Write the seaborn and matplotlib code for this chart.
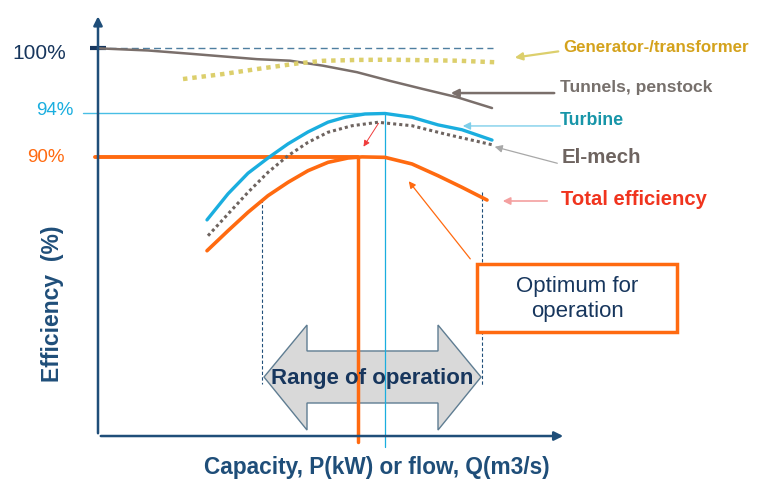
import numpy as np
import matplotlib
matplotlib.use('Agg')
import matplotlib.pyplot as plt
from matplotlib.patches import Polygon, Rectangle
import seaborn as sns

# efficiency curves, x = capacity (arbitrary units), y = efficiency (%)
tunnel_x = [0, 5.0, 9.2, 15.9, 19.2, 22.5, 25.9, 29.2, 32.5, 35.9, 39.4]
tunnel_y = [100, 99.8, 99.5, 99.0, 98.86, 98.4, 97.8, 97.0, 96.25, 95.5, 94.5]

gen_x = [8.5, 12.5, 15.9, 19.9, 22.5, 26.0, 29.2, 35.9, 39.9]
gen_y = [97.17, 97.63, 98.09, 98.6, 98.85, 98.93, 98.95, 98.86, 98.71]

turbine_x = [10.9, 13.0, 15.0, 17.0, 19.0, 21.0, 23.0, 24.7, 26.7, 28.7, 31.4, 34.0, 36.4, 39.4]
turbine_y = [84.2, 86.6, 88.5, 89.9, 91.2, 92.3, 93.2, 93.65, 93.95, 94.0, 93.65, 92.95, 92.5, 91.55]

elmech_x = [11.0, 13.0, 15.0, 17.0, 19.0, 21.0, 23.0, 25.4, 28.0, 31.4, 34.7, 39.5]
elmech_y = [82.74, 84.74, 86.74, 88.58, 90.11, 91.34, 92.27, 92.87, 93.19, 92.87, 92.11, 91.1]

total_x = [10.9, 13.0, 15.0, 17.0, 19.0, 21.0, 23.0, 25.0, 26.4, 28.7, 31.4, 34.0, 36.4, 38.9]
total_y = [81.36, 83.2, 84.9, 86.43, 87.66, 88.73, 89.5, 89.9, 90.0, 89.96, 89.35, 88.27, 87.2, 86.03]

# reference levels and operating range
ref_levels = [100, 94, 90]
ref_labels = ['100%', '94%', '90%']
x_opt_total = 26.0      # optimum of total efficiency
x_opt_turbine = 28.7    # optimum of turbine
range_lo, range_hi = 16.4, 38.4

navy = '#1f4e79'
dark = '#17365d'
orange = '#ff6a10'
cyan = '#1aaedf'
gray = '#7a6f6b'
khaki = '#dccf6c'

sns.set_style('white')
plt.rcParams['font.family'] = ['Liberation Sans', 'DejaVu Sans']

fig = plt.figure(figsize=(7.59, 4.81), dpi=100)
ax = fig.add_axes([0, 0, 1, 1])
ax.set_xlim(-9.8, 66.1)
ax.set_ylim(60.25, 104.54)
ax.axis('off')

y0 = 64.3  # efficiency at x-axis line

# axes with arrows
ax.annotate('', xy=(0, 103.2), xytext=(0, y0),
            arrowprops=dict(arrowstyle='-|>', color=navy, lw=1.8, mutation_scale=13))
ax.annotate('', xy=(46.8, y0), xytext=(0, y0),
            arrowprops=dict(arrowstyle='-|>', color=navy, lw=1.8, mutation_scale=13))

# reference lines
ax.plot([0, 39.5], [100, 100], color='#4f7fa0', lw=1, ls=(0, (5, 3)))
ax.plot([-0.8, 0.8], [100, 100], color=dark, lw=3, solid_capstyle='butt')
ax.plot([-1.5, 28.2], [94, 94], color=cyan, lw=1, alpha=0.8)
ax.plot([-0.3, x_opt_total], [90, 90], color=orange, lw=2.8)
ax.plot([x_opt_total, x_opt_total], [90, 63.75], color=orange, lw=2.5)
ax.plot([x_opt_turbine, x_opt_turbine], [94, 63.3], color=cyan, lw=0.9)
ax.plot([range_lo, range_lo], [86.1, 69.1], color=navy, lw=0.8, ls=(0, (3, 2)))
ax.plot([range_hi, range_hi], [86.8, 68.9], color=navy, lw=0.8, ls=(0, (3, 2)))

# curves
sns.lineplot(x=tunnel_x, y=tunnel_y, ax=ax, color=gray, lw=1.8, estimator=None)
sns.lineplot(x=gen_x, y=gen_y, ax=ax, color=khaki, lw=3.2, estimator=None,
             linestyle=(0, (1, 1.1)))
sns.lineplot(x=turbine_x, y=turbine_y, ax=ax, color=cyan, lw=2.4, estimator=None)
sns.lineplot(x=elmech_x, y=elmech_y, ax=ax, color='#6e6460', lw=2.2, estimator=None,
             linestyle=(0, (1, 1)))
sns.lineplot(x=total_x, y=total_y, ax=ax, color=orange, lw=2.6, estimator=None)

# left level labels
label_pos = [(-3.2, 99.57), (-2.5, 94.41), (-3.3, 90.08)]
for (lx, ly), lab, col, fs in zip(label_pos, ref_labels, [dark, cyan, orange], [15, 13.5, 13.5]):
    ax.text(lx, ly, lab, color=col, fontsize=fs, ha='right', va='center')

# double arrow for range of operation
tip_l, base_l, base_r, tip_r = 16.6, 20.9, 34.0, 38.3
mid, head_t, head_b, shaft_t, shaft_b = 69.73, 74.52, 64.85, 72.13, 67.34
arrow_pts = [(tip_l, mid), (base_l, head_t), (base_l, shaft_t), (base_r, shaft_t),
             (base_r, head_t), (tip_r, mid), (base_r, head_b), (base_r, shaft_b),
             (base_l, shaft_b), (base_l, head_b)]
ax.add_patch(Polygon(arrow_pts, closed=True, facecolor='#d9d9d9', edgecolor='#5f7d92',
                     lw=1, zorder=1))
ax.text((tip_l + tip_r) / 2, mid, 'Range of operation', color=dark, fontsize=16,
        fontweight='bold', ha='center', va='center', zorder=3)

# optimum box
ax.add_patch(Rectangle((37.9, 73.88), 20.0, 6.26, facecolor='white', edgecolor=orange,
                       lw=2.5, zorder=3))
ax.text(47.9, 77.0, 'Optimum for\noperation', color=dark, fontsize=16,
        ha='center', va='center', linespacing=1.2, zorder=4)
ax.annotate('', xy=(30.9, 87.96), xytext=(37.4, 80.41),
            arrowprops=dict(arrowstyle='-|>', color=orange, lw=0.9, mutation_scale=10))
ax.annotate('', xy=(26.4, 90.73), xytext=(28.2, 93.31),
            arrowprops=dict(arrowstyle='-|>', color='#f03c3c', lw=0.7, mutation_scale=9))

# curve labels with arrows
labels = [
    ('Generator-/transformer', '#d4a21c', 12.2, (46.5, 100.21), (46.3, 99.75), (41.4, 99.11), khaki, 1.6),
    ('Tunnels, penstock', '#77706c', 12.6, (46.2, 96.44), (45.9, 95.88), (35.0, 95.88), gray, 1.8),
    ('Turbine', '#1795a8', 12.8, (46.2, 93.4), (46.5, 92.85), (36.2, 92.85), '#7fcfea', 1.0),
    ('El-mech', '#6e6460', 14.8, (46.4, 90.0), (46.2, 89.35), (39.4, 91.0), '#a8a8a8', 0.9),
    ('Total efficiency', '#f0341e', 14.6, (46.3, 86.21), (45.2, 85.94), (40.2, 85.94), '#f4a0a0', 1.2),
]
for txt, tcol, fs, tpos, start, end, acol, alw in labels:
    ax.text(tpos[0], tpos[1], txt, color=tcol, fontsize=fs, fontweight='bold',
            ha='left', va='center')
    ax.annotate('', xy=end, xytext=start,
                arrowprops=dict(arrowstyle='-|>', color=acol, lw=alw, mutation_scale=11))

# axis titles
ax.text(-4.5, 76.6, 'Efficiency  (%)', color=navy, fontsize=16.5, fontweight='bold',
        rotation=90, ha='center', va='center')
ax.text(27.9, 61.45, 'Capacity, P(kW) or flow, Q(m3/s)', color=navy, fontsize=16.3,
        fontweight='bold', ha='center', va='center')

fig.savefig('out.png', dpi=100)
